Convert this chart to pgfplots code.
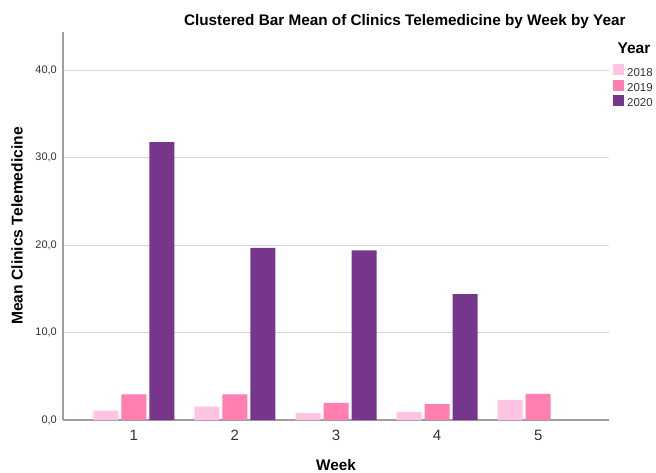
\documentclass[border=0pt]{standalone}
\usepackage{fontspec}
\setmainfont{Liberation Sans}
\usepackage{pgfplots}
\pgfplotsset{compat=1.18}
\definecolor{cA}{HTML}{FFC4E1}
\definecolor{cB}{HTML}{FF7FB1}
\definecolor{cC}{HTML}{76368C}
\definecolor{gridc}{HTML}{D4D4D4}
\definecolor{axc}{HTML}{9E9E9E}
\definecolor{txt}{HTML}{333333}
\newcommand{\fs}[1]{\fontsize{#1bp}{#1bp}\selectfont}
\begin{document}
\begin{tikzpicture}
\useasboundingbox (0,0) rectangle (656bp,473bp);
\begin{axis}[
  at={(63bp,53bp)}, anchor=south west,
  scale only axis, width=546bp, height=388bp,
  ybar=3bp, bar width=25bp,
  xmin=0.3, xmax=5.7, ymin=0, ymax=44.4,
  enlargelimits=false,
  axis x line*=bottom, axis y line*=left,
  axis line style={draw=axc, line width=1.3bp, -},
  xtick={1,2,3,4,5}, ytick={0,10,20,30,40},
  major tick length=0pt,
  ymajorgrids, major grid style={draw=gridc, line width=1.3bp},
  /pgf/number format/assume math mode=true,
  yticklabel={\pgfmathprintnumber[fixed,fixed zerofill,precision=1,use comma]{\tick}},
  yticklabel style={font=\fs{11}, text=txt, inner sep=0pt, xshift=-6bp},
  xticklabel style={font=\fs{15}, text=txt, inner sep=0pt, yshift=-10bp},
  xlabel={Week}, ylabel={Mean Clinics Telemedicine},
  xlabel style={font=\bfseries\fs{15.3}, at={(axis description cs:0.5,-0.1314)}, anchor=base},
  ylabel style={font=\bfseries\fs{15.6}, at={(axis description cs:-0.0842,0.5)}, anchor=center},
  every axis title shift=0pt,
  title={Clustered Bar Mean of Clinics Telemedicine by Week by Year},
  title style={font=\bfseries\fs{15.3}, at={(axis description cs:0.626,1.018)}, anchor=base},
  legend style={at={(axis description cs:1,1)}, anchor=north west, xshift=4bp, yshift=-32bp,
    draw=none, fill=none, inner sep=0pt, row sep=3.4bp, column sep=3bp,
    font=\fs{11.5}, text=txt,
    nodes={inner sep=0pt, text height=8bp, text depth=0bp}},
  legend cell align=left,
  legend image code/.code={\fill[#1,draw=none] (0bp,-3bp) rectangle (11bp,8bp);},
  clip=false,
]
\addplot[fill=cA, draw=none] coordinates {(1,1.07) (2,1.53) (3,0.80) (4,0.92) (5,2.29)};
\addplot[fill=cB, draw=none] coordinates {(1,2.94) (2,2.94) (3,1.95) (4,1.83) (5,2.98)};
\addplot[fill=cC, draw=none] coordinates {(1,31.8) (2,19.7) (3,19.4) (4,14.4)};
\legend{2018,2019,2020}
\node[font=\bfseries\fs{15.5}, anchor=center] at ([xshift=25bp,yshift=-16bp]rel axis cs:1,1) {Year};
\end{axis}
\end{tikzpicture}
\end{document}
